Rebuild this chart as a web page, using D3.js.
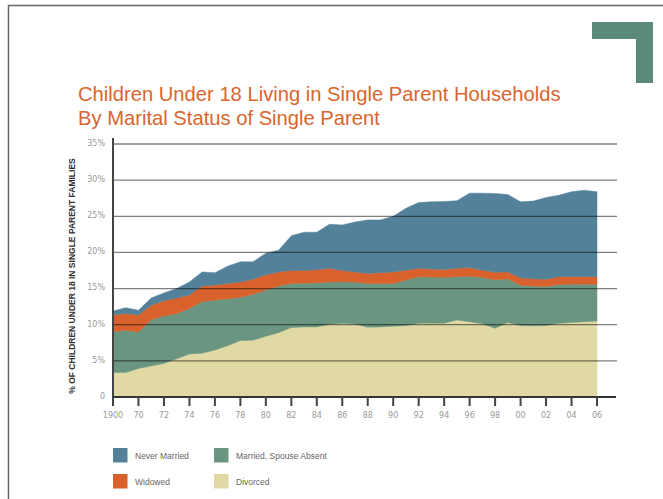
<!DOCTYPE html>
<html>
<head>
<meta charset="utf-8">
<script src="https://cdn.jsdelivr.net/npm/d3@7"></script>
<style>
  html, body { margin: 0; padding: 0; background: #fff; }
  svg { display: block; }
</style>
</head>
<body>
<svg id="chart" width="663" height="499"></svg>
<script>
// ---- data ----
const years = [1968,1969,1970,1971,1972,1973,1974,1975,1976,1977,1978,1979,1980,1981,1982,1983,1984,1985,1986,1987,1988,1989,1990,1991,1992,1993,1994,1995,1996,1997,1998,1999,2000,2001,2002,2003,2004,2005,2006];
const divorced      = [3.4,3.4,3.95,4.3,4.65,5.3,5.95,6.05,6.5,7.1,7.8,7.85,8.4,8.9,9.6,9.7,9.7,10.05,10.2,10.1,9.65,9.7,9.8,9.9,10.2,10.2,10.2,10.65,10.4,10.15,9.5,10.3,9.9,9.85,9.9,10.2,10.3,10.4,10.5];
const marriedAbsent = [5.6,5.85,5.05,6.4,6.55,6.25,6.3,7.15,6.9,6.5,6.0,6.35,6.4,6.45,6.1,6.05,6.1,5.85,5.75,5.8,6.05,6.0,5.9,6.3,6.45,6.4,6.35,6.0,6.3,6.4,6.7,6.05,5.55,5.5,5.4,5.35,5.3,5.2,5.1];
const widowed       = [2.35,2.3,2.35,2.0,2.1,2.15,1.85,2.15,2.1,2.1,2.1,2.1,2.1,1.95,1.8,1.75,1.8,1.9,1.55,1.4,1.4,1.5,1.6,1.35,1.15,1.1,1.1,1.15,1.2,1.0,1.05,0.95,1.05,1.0,1.0,1.1,1.05,1.05,1.05];
const neverMarried  = [0.55,0.8,0.65,1.0,1.1,1.3,1.8,1.95,1.7,2.4,2.8,2.4,3.0,3.0,4.8,5.3,5.2,6.1,6.3,6.9,7.4,7.3,7.7,8.55,9.1,9.3,9.4,9.35,10.3,10.65,10.9,10.7,10.5,10.75,11.3,11.25,11.75,11.95,11.75];

const seriesNames = ["Divorced","Married, Spouse Absent","Widowed","Never Married"];
const yTicks = [0,5,10,15,20,25,30,35];
const xTickYears = [1968,1970,1972,1974,1976,1978,1980,1982,1984,1986,1988,1990,1992,1994,1996,1998,2000,2002,2004,2006];
const xTickLabels = ["1900","70","72","74","76","78","80","82","84","86","88","90","92","94","96","98","00","02","04","06"];
const titleLines = ["Children Under 18 Living in Single Parent Households","By Marital Status of Single Parent"];
const yTitle = "% OF CHILDREN UNDER 18 IN SINGLE PARENT FAMILIES";
const legendOrder = ["Never Married","Married, Spouse Absent","Widowed","Divorced"];

// ---- styling ----
const colors = {
  "Divorced": "#e1d9a3",
  "Married, Spouse Absent": "#6a9681",
  "Widowed": "#d9612b",
  "Never Married": "#54819a"
};
const svg = d3.select("#chart");

// frame
svg.append("path").attr("d", "M8.5,499 L8.5,5.5 L663,5.5")
  .attr("fill", "none").attr("stroke", "#666").attr("stroke-width", 1.5);

// corner decoration
svg.append("path")
  .attr("d", "M592,22 L653,22 L653,83 L636,83 L636,39 L592,39 Z")
  .attr("fill", "#5b8a7a");

// title
svg.append("g").selectAll("text").data(titleLines).join("text")
  .attr("x", 78).attr("y", (d, i) => 101 + i * 23.5)
  .attr("font-family", "'Liberation Sans', Arial, sans-serif")
  .attr("font-size", 20.2).attr("fill", "#d9652f")
  .text(d => d);

// scales
const x = d3.scaleLinear().domain([d3.min(years), d3.max(years)]).range([113, 597]);
const y = d3.scaleLinear().domain([0, 35]).range([397, 144]);

// stacked data
const table = years.map((yr, i) => ({
  year: yr,
  "Divorced": divorced[i],
  "Married, Spouse Absent": marriedAbsent[i],
  "Widowed": widowed[i],
  "Never Married": neverMarried[i]
}));
const stacked = d3.stack().keys(seriesNames)(table);

const area = d3.area()
  .x(d => x(d.data.year))
  .y0(d => y(d[0]))
  .y1(d => y(d[1]));

svg.append("g").selectAll("path").data(stacked).join("path")
  .attr("d", area)
  .attr("fill", d => colors[d.key])
  .attr("stroke", d => colors[d.key])
  .attr("stroke-width", 0.5);

// gridlines (drawn over the areas)
svg.append("g").selectAll("line").data(yTicks.filter(t => t > 0)).join("line")
  .attr("x1", 113).attr("x2", 617)
  .attr("y1", d => y(d)).attr("y2", d => y(d))
  .attr("stroke", "#000").attr("stroke-opacity", 0.5).attr("stroke-width", 1.3);

// y axis line
svg.append("line").attr("x1", 113).attr("x2", 113).attr("y1", 138).attr("y2", 406)
  .attr("stroke", "#444").attr("stroke-width", 2);
// x axis line
svg.append("line").attr("x1", 112).attr("x2", 616).attr("y1", y(0)).attr("y2", y(0))
  .attr("stroke", "#333").attr("stroke-width", 2);

// x ticks
const xt = svg.append("g").selectAll("g").data(xTickYears).join("g")
  .attr("transform", d => `translate(${x(d)},0)`);
xt.append("line").attr("y1", y(0)).attr("y2", 406)
  .attr("stroke", "#444").attr("stroke-width", 2);
xt.append("text").attr("y", 418).attr("text-anchor", "middle")
  .attr("font-family", "'DejaVu Sans', sans-serif").attr("font-size", 8)
  .attr("fill", "#999")
  .text((d, i) => xTickLabels[i]);

// y tick labels
svg.append("g").selectAll("text").data(yTicks).join("text")
  .attr("x", 105).attr("y", d => y(d) - 1).attr("dy", "0.35em")
  .attr("text-anchor", "end")
  .attr("font-family", "'DejaVu Sans', sans-serif").attr("font-size", 8)
  .attr("fill", "#999")
  .text(d => d === 0 ? "0" : d + "%");

// y title
svg.append("text")
  .attr("transform", "translate(75,276) rotate(-90)")
  .attr("text-anchor", "middle")
  .attr("font-family", "'Liberation Sans', Arial, sans-serif")
  .attr("font-weight", "bold").attr("font-size", 8.5)
  .attr("fill", "#333")
  .text(yTitle);

// legend
const lg = svg.append("g").selectAll("g").data(legendOrder).join("g")
  .attr("transform", (d, i) => `translate(${113 + (i % 2) * 101},${448 + Math.floor(i / 2) * 26})`);
lg.append("rect").attr("width", 14.5).attr("height", 14.5)
  .attr("fill", d => colors[d]);
lg.append("text").attr("x", 22).attr("y", 11)
  .attr("font-family", "'Liberation Sans', Arial, sans-serif").attr("font-size", 8.5)
  .attr("fill", "#666")
  .text(d => d);
</script>
</body>
</html>
